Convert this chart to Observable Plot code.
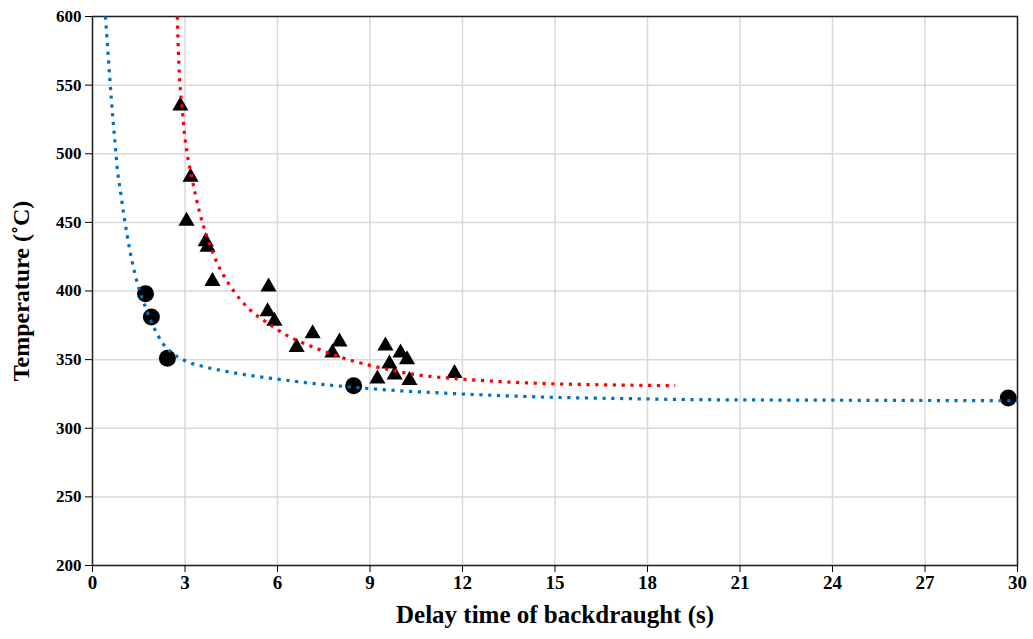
<!DOCTYPE html>
<html>
<head>
<meta charset="utf-8">
<script src="https://cdn.jsdelivr.net/npm/d3@7"></script>
<script src="https://cdn.jsdelivr.net/npm/@observablehq/plot@0.6"></script>
<style>
  html, body { margin: 0; padding: 0; background: #fff; }
  #chart svg { display: block; }
</style>
</head>
<body>
<div id="chart"></div>
<script>
// Measured data: circles (blue fit), triangles (red fit)
const circleX = [1.72, 1.91, 2.43, 8.47, 29.7];
const circleY = [398, 381, 351, 331, 322];

const triX = [2.85, 3.18, 3.05, 3.67, 3.73, 3.89, 5.71, 5.68, 5.90, 6.62, 7.14, 8.01, 7.78, 9.50, 9.99, 10.2, 9.63, 9.24, 9.80, 10.28, 11.74];
const triY = [535, 483, 451, 436, 432, 407, 403, 385, 378, 359, 369, 363, 355, 360, 355, 350, 347, 336, 339, 335, 340];

// Trend curves
const blueX = [0.42, 0.53, 0.61, 0.75, 0.8, 0.91, 1.02, 1.12, 1.28, 1.45, 1.72, 1.99, 2.26, 2.58, 3.02, 3.5, 4.2, 5.1, 6.1, 7.2, 8.4, 9.5, 11.3, 13, 15, 17, 19.4, 23, 26, 30];
const blueY = [600, 565, 540, 503, 490, 472, 455, 441, 422, 406, 388, 373.5, 362.5, 355, 349, 345.5, 342, 338.5, 335.5, 332.5, 330, 328, 325.7, 324, 322.5, 321.7, 320.9, 320.5, 320.3, 320];

const redX = [2.75, 2.8, 2.83, 2.9, 2.98, 3.07, 3.2, 3.34, 3.5, 3.72, 3.99, 4.26, 4.58, 5.12, 5.66, 6.2, 7.29, 8.37, 9.45, 10.5, 11.3, 12.5, 13.2, 15.07, 17, 18.9];
const redY = [600, 566, 553, 535, 515, 500, 485, 470, 455, 439, 423, 411, 400, 386, 377, 369, 358, 349.5, 343.5, 339, 337, 335, 334, 332.3, 331.5, 331];

const xTicks = [0, 3, 6, 9, 12, 15, 18, 21, 24, 27, 30];
const yTicks = [200, 250, 300, 350, 400, 450, 500, 550, 600];

const circles = circleX.map((x, i) => ({x, y: circleY[i]}));
const tris = triX.map((x, i) => ({x, y: triY[i]}));
const blue = blueX.map((x, i) => ({x, y: blueY[i]}));
const red = redX.map((x, i) => ({x, y: redY[i]}));

const font = "'Liberation Serif', 'Times New Roman', serif";

const chart = Plot.plot({
  width: 1033,
  height: 639,
  marginLeft: 92,
  marginRight: 16,
  marginTop: 16,
  marginBottom: 74,
  style: {fontFamily: font, fontWeight: "bold", fontSize: "16px", color: "#000", background: "#fff", overflow: "visible"},
  x: {domain: [0, 30], ticks: xTicks, label: null},
  y: {domain: [200, 600], ticks: yTicks, label: null},
  marks: [
    Plot.gridX(xTicks, {stroke: "#d9d9d9", strokeOpacity: 1, strokeWidth: 1.5}),
    Plot.gridY(yTicks, {stroke: "#d9d9d9", strokeOpacity: 1, strokeWidth: 1.5}),
    Plot.frame({stroke: "#222", strokeWidth: 1.5}),
    Plot.axisX(xTicks, {tickSize: 7, tickPadding: 3, stroke: "#000", fontSize: 19, fontWeight: "bold", label: null}),
    Plot.axisY(yTicks, {tickSize: 7, tickPadding: 4, stroke: "#000", fontSize: 17, fontWeight: "bold", label: null}),
    Plot.dot(circles, {x: "x", y: "y", r: 8.5, fill: "#000", stroke: "none"}),
    Plot.dot(tris, {x: "x", y: "y", r: 6, symbol: "triangle", fill: "#000", stroke: "none"}),
    Plot.line(blue, {x: "x", y: "y", curve: "monotone-x", stroke: "#0070C0", strokeWidth: 3.2, strokeDasharray: "3.2,5.6", strokeLinecap: "butt"}),
    Plot.line(red, {x: "x", y: "y", curve: "monotone-x", stroke: "#FF0000", strokeWidth: 3.2, strokeDasharray: "3.2,5.6", strokeLinecap: "butt"}),
    Plot.text(["Delay time of backdraught (s)"], {frameAnchor: "bottom", dy: 57, text: d => d, fontSize: 25, fontWeight: "bold", fill: "#000"}),
    Plot.text(["Temperature (˚C)"], {frameAnchor: "left", dx: -71, rotate: -90, textAnchor: "middle", text: d => d, fontSize: 24, fontWeight: "bold", fill: "#000"})
  ]
});
document.getElementById("chart").appendChild(chart);
</script>
</body>
</html>
